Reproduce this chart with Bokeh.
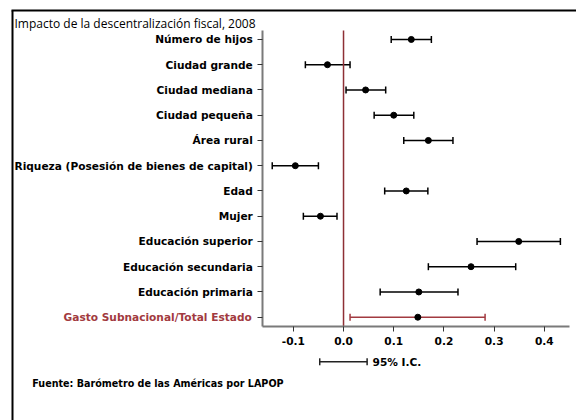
from bokeh.plotting import figure
from bokeh.models import (ColumnDataSource, Range1d, Whisker, TeeHead,
                          Label, Arrow, FixedTicker)
from bokeh.embed import file_html
from bokeh.resources import INLINE

# ---- data (top to bottom as in the chart) ----
labels = ["Número de hijos", "Ciudad grande", "Ciudad mediana", "Ciudad pequeña",
          "Área rural", "Riqueza (Posesión de bienes de capital)", "Edad", "Mujer",
          "Educación superior", "Educación secundaria", "Educación primaria",
          "Gasto Subnacional/Total Estado"]
estimate = [0.135, -0.032, 0.044, 0.100, 0.169, -0.096, 0.125, -0.046, 0.349, 0.254, 0.150, 0.148]
lower = [0.095, -0.076, 0.005, 0.061, 0.120, -0.142, 0.082, -0.080, 0.266, 0.169, 0.073, 0.013]
upper = [0.175, 0.013, 0.084, 0.140, 0.218, -0.050, 0.168, -0.013, 0.432, 0.343, 0.228, 0.282]
x_ticks = [-0.1, 0.0, 0.1, 0.2, 0.3, 0.4]
x_tick_labels = ["-0.1", "0.0", "0.1", "0.2", "0.3", "0.4"]
highlight = "Gasto Subnacional/Total Estado"
title_text = "Impacto de la descentralización fiscal, 2008"
source_text = "Fuente: Barómetro de las Américas por LAPOP"
legend_text = "95% I.C."

FONT = "DejaVu Sans"
FS = "10.6px"
RED = "#A23A40"
LINE_RED = "#8E2F35"

n = len(labels)
rows = [n - 1 - i for i in range(n)]          # row position: top row highest
x_min, x_max = -0.1608, 0.4502                # plotted x extent (axis bounds)
y_min, y_max = -0.3485, 11.354                # plotted y extent (axis bounds)

black_idx = [i for i, l in enumerate(labels) if l != highlight]
red_idx = [i for i, l in enumerate(labels) if l == highlight]

def sub(idx):
    return ColumnDataSource(dict(row=[rows[i] for i in idx],
                                 est=[estimate[i] for i in idx],
                                 lo=[lower[i] for i in idx],
                                 hi=[upper[i] for i in idx]))

src_black = sub(black_idx)
src_red = sub(red_idx)
src_all = sub(range(n))

p = figure(width=576, height=420, output_backend="svg", toolbar_location=None,
           x_range=Range1d(-0.6833, 0.4641), y_range=Range1d(-4.091, 12.543),
           min_border=0, min_border_left=0, min_border_right=0,
           min_border_top=0, min_border_bottom=0)
p.outline_line_color = None
p.grid.visible = False
p.background_fill_color = "white"
p.border_fill_color = "white"

# zero reference line
p.segment(x0=[0.0], y0=[y_min], x1=[0.0], y1=[y_max], line_color=LINE_RED, line_width=1.5)

# confidence intervals
for src, col in ((src_black, "black"), (src_red, RED)):
    p.add_layout(Whisker(base="row", lower="lo", upper="hi", dimension="width", source=src,
                         line_color=col, line_width=1.5,
                         lower_head=TeeHead(size=7, line_color=col, line_width=1.5),
                         upper_head=TeeHead(size=7, line_color=col, line_width=1.5)))

p.scatter(x="est", y="row", source=src_all, size=6, color="black")

# axes
for ax in (p.xaxis[0], p.yaxis[0]):
    ax.axis_line_color = "#7a7a7a"
    ax.axis_line_width = 2
    ax.major_tick_out = 5
    ax.major_tick_in = 0
    ax.major_tick_line_color = "#333333"
    ax.major_tick_line_width = 1
    ax.minor_tick_line_color = None
    ax.major_label_text_font = FONT
    ax.major_label_text_font_style = "bold"
    ax.major_label_text_font_size = FS
    ax.major_label_text_color = "black"

p.xaxis.fixed_location = y_min
p.xaxis.bounds = (x_min, x_max)
p.xaxis.ticker = FixedTicker(ticks=x_ticks)
p.xaxis.major_label_overrides = {t: s for t, s in zip(x_ticks, x_tick_labels)}
p.xaxis.major_label_standoff = 6

p.yaxis.fixed_location = x_min
p.yaxis.bounds = (y_min, y_max)
p.yaxis.ticker = FixedTicker(ticks=rows)
p.yaxis.major_label_overrides = {r: (l if l != highlight else "") for r, l in zip(rows, labels)}
p.yaxis.major_label_standoff = 5

# red label for the highlighted row
p.add_layout(Label(x=x_min, y=rows[labels.index(highlight)], x_offset=-11,
                   text=highlight, text_align="right", text_baseline="middle",
                   text_font=FONT, text_font_style="bold", text_font_size=FS,
                   text_color=RED))

# CI legend below the axis
p.add_layout(Arrow(x_start=-0.0474, y_start=-1.766, x_end=0.0470, y_end=-1.766,
                   start=TeeHead(size=7, line_width=1.5, line_color="#222222"),
                   end=TeeHead(size=7, line_width=1.5, line_color="#222222"),
                   line_width=1.5, line_color="#222222"))
p.add_layout(Label(x=0.0578, y=-1.766, text=legend_text, text_baseline="middle",
                   text_font=FONT, text_font_style="bold", text_font_size=FS,
                   text_color="black"))

# source note
p.add_layout(Label(x=-0.6201, y=-2.626, text=source_text, text_baseline="middle",
                   text_font=FONT, text_font_style="bold", text_font_size="9.6px",
                   text_color="black"))

# outer box (left and top borders; right and bottom lie outside the picture)
p.add_layout(Arrow(x_start=12, y_start=410, x_end=12, y_end=-20, end=None,
                   start_units="screen", end_units="screen", line_width=2, line_color="black"))
p.add_layout(Arrow(x_start=11, y_start=410, x_end=620, y_end=410, end=None,
                   start_units="screen", end_units="screen", line_width=2, line_color="black"))

# title (cut off in the reference; kept readable inside the box top)
p.add_layout(Label(x=-0.6554, y=11.63, text=title_text, text_baseline="alphabetic",
                   text_font="Open Sans", text_font_size="12px", text_color="black"))

open("out.html", "w").write(file_html(p, INLINE))
